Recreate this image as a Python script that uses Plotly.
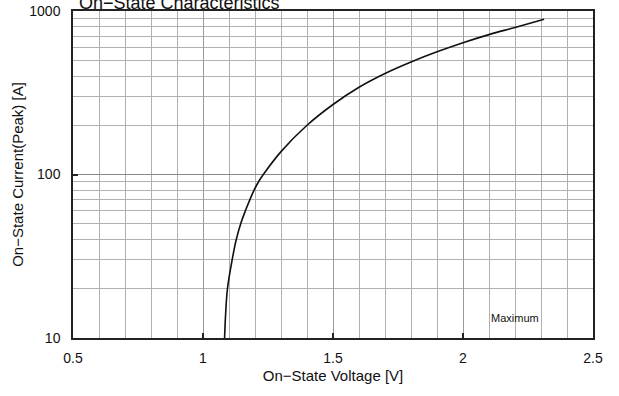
import plotly.graph_objects as go

# On-state voltage [V] vs on-state current (peak) [A]
voltage = [1.083, 1.087, 1.094, 1.112, 1.128, 1.145, 1.163, 1.180, 1.196, 1.213, 1.232,
           1.300, 1.400, 1.500, 1.600, 1.700, 1.800, 1.900, 2.000, 2.100, 2.200, 2.312]
current = [10, 14, 20, 30, 40, 50, 60, 70, 80, 90, 100,
           138, 200, 268, 342, 415, 488, 563, 640, 717, 793, 889]

x_ticks = [0.5, 1, 1.5, 2, 2.5]
x_tick_text = ["0.5", "1", "1.5", "2", "2.5"]
y_ticks = [10, 100, 1000]
y_tick_text = ["10", "100", "1000"]

FONT = "Liberation Sans, Arial, sans-serif"

fig = go.Figure()
fig.add_trace(go.Scatter(
    x=voltage, y=current, mode="lines",
    line=dict(color="#111111", width=1.6, shape="spline", smoothing=1.0),
    showlegend=False, hoverinfo="skip",
))

fig.update_layout(
    width=619, height=396,
    margin=dict(l=73, r=26, t=11, b=58, autoexpand=False),
    paper_bgcolor="white", plot_bgcolor="white",
    font=dict(family=FONT, size=14, color="#111111"),
    xaxis=dict(
        range=[0.5, 2.5], tickvals=x_ticks, ticktext=x_tick_text,
        ticks="inside", ticklen=5, tickcolor="#222", tickwidth=1.5,
        ticklabelstandoff=6,
        showgrid=True, gridcolor="#9a9a9a", gridwidth=1,
        minor=dict(dtick=0.1, showgrid=True, gridcolor="#b0b0b0", gridwidth=1, ticks=""),
        showline=True, linecolor="#222", linewidth=1.5, mirror=True,
        zeroline=False, automargin=False,
        title=dict(text="On\u2212State Voltage [V]", font=dict(size=15), standoff=6),
    ),
    yaxis=dict(
        type="log", range=[1, 3], tickvals=y_ticks, ticktext=y_tick_text,
        ticks="inside", ticklen=5, tickcolor="#222", tickwidth=1.5,
        ticklabelstandoff=8,
        showgrid=True, gridcolor="#8a8a8a", gridwidth=1,
        minor=dict(dtick="D1", showgrid=True, gridcolor="#b0b0b0", gridwidth=1, ticks=""),
        showline=True, linecolor="#222", linewidth=1.5, mirror=True,
        zeroline=False, automargin=False,
        title=dict(text="On\u2212State Current(Peak) [A]", font=dict(size=15), standoff=2),
    ),
    annotations=[
        dict(text="Maximum", x=2.20, y=1.124, xref="x", yref="y", showarrow=False,
             font=dict(size=11), xanchor="center", yanchor="middle"),
        dict(text="On\u2212State Characteristics", x=0.008, y=1.0, xref="paper", yref="paper",
             yshift=-4, showarrow=False, font=dict(size=18),
             xanchor="left", yanchor="bottom"),
    ],
)

fig.write_html("out.html", config={"displayModeBar": False},
               post_script="document.body.style.margin='0px';")
